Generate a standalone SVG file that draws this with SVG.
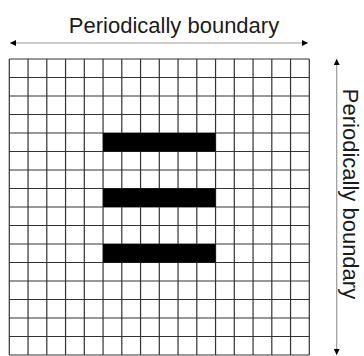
<svg xmlns="http://www.w3.org/2000/svg" width="364" height="356" viewBox="0 0 364 356">
  <style>
    .grid { stroke: #333; stroke-width: 1.2; fill: none; }
    .bar { fill: #000; }
    .arrow { stroke: #999; stroke-width: 1.2; fill: none; }
    .label { font-family: "Liberation Sans", Arial, sans-serif; font-size: 22px; fill: #1a1a1a; text-anchor: middle; }
  </style>
  <defs>
    <marker id="ah" viewBox="0 0 10 10" refX="10" refY="5" markerWidth="6" markerHeight="6" markerUnits="userSpaceOnUse" orient="auto-start-reverse">
      <path d="M0,0 L10,5 L0,10 Z" fill="#000"/>
    </marker>
  </defs>
  <rect width="364" height="356" fill="#fff"/>
  <g id="grid">
    <path class="grid" d="M9.3,59 V355 M28.05,59 V355 M46.8,59 V355 M65.55,59 V355 M84.3,59 V355 M103.05,59 V355 M121.8,59 V355 M140.55,59 V355 M159.3,59 V355 M178.05,59 V355 M196.8,59 V355 M215.55,59 V355 M234.3,59 V355 M253.05,59 V355 M271.8,59 V355 M290.55,59 V355 M309.3,59 V355
      M9.3,59 H309.3 M9.3,77.5 H309.3 M9.3,96 H309.3 M9.3,114.5 H309.3 M9.3,133 H309.3 M9.3,151.5 H309.3 M9.3,170 H309.3 M9.3,188.5 H309.3 M9.3,207 H309.3 M9.3,225.5 H309.3 M9.3,244 H309.3 M9.3,262.5 H309.3 M9.3,281 H309.3 M9.3,299.5 H309.3 M9.3,318 H309.3 M9.3,336.5 H309.3 M9.3,355 H309.3"/>
  </g>
  <g id="bars">
    <rect class="bar" x="103.05" y="133" width="112.5" height="18.5"/>
    <rect class="bar" x="103.05" y="188.5" width="112.5" height="18.5"/>
    <rect class="bar" x="103.05" y="244" width="112.5" height="18.5"/>
  </g>
  <g id="connectors">
    <line class="arrow" x1="10" y1="43" x2="308" y2="43" marker-start="url(#ah)" marker-end="url(#ah)"/>
    <line class="arrow" x1="336.7" y1="59" x2="336.7" y2="355" marker-start="url(#ah)" marker-end="url(#ah)"/>
  </g>
  <g id="label-top">
    <text class="label" x="174" y="33">Periodically boundary</text>
  </g>
  <g id="label-right">
    <text class="label" transform="translate(343,194) rotate(90)">Periodically boundary</text>
  </g>
</svg>
